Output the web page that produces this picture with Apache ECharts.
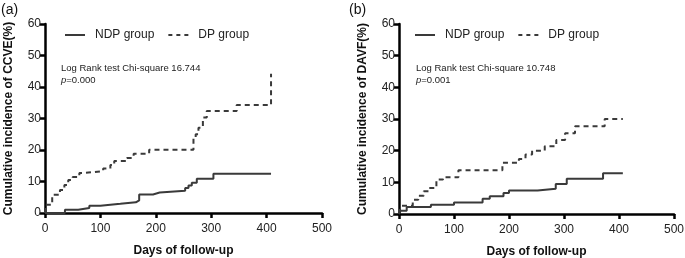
<!DOCTYPE html>
<html>
<head>
<meta charset="utf-8">
<script src="https://cdn.jsdelivr.net/npm/echarts@6/dist/echarts.min.js"></script>
<style>
  html, body { margin: 0; padding: 0; background: #fff; }
  #main { width: 685px; height: 258px; }
</style>
</head>
<body>
<div id="main"></div>
<script>
// panel (a): CCVE
var ccveNdpDays = [0, 36, 60, 80, 100, 136, 164, 170, 195, 207, 253, 259, 265, 274, 304, 408];
var ccveNdpPct  = [0, 1.0, 1.6, 2.3, 2.9, 3.4, 4.0, 5.9, 6.5, 7.1, 7.9, 8.7, 9.6, 10.9, 12.5, 12.5];
var ccveDpDays = [0, 0, 13, 27, 35, 42, 50, 62, 70, 105, 118, 125, 148, 160, 188, 268, 272, 277, 285, 292, 346, 408, 408];
var ccveDpPct  = [0, 2.6, 5.8, 7.3, 8.9, 10.5, 11.4, 12.7, 13.3, 14.1, 15.2, 16.5, 17.5, 18.8, 20.1, 23.9, 25.0, 27.1, 30.3, 32.4, 34.3, 34.3, 44.2];

// panel (b): DAVF
var davfNdpDays = [0, 3, 14, 58, 100, 152, 165, 190, 200, 252, 285, 305, 371, 407];
var davfNdpPct  = [0, 1.0, 2.2, 2.9, 3.6, 4.8, 5.6, 6.6, 7.4, 8.0, 9.5, 11.1, 12.9, 12.9];
var davfDpDays = [0, 2, 5, 25, 35, 45, 55, 68, 80, 108, 188, 218, 230, 242, 265, 286, 302, 320, 374, 407];
var davfDpPct  = [0, 1.5, 2.6, 4.5, 5.8, 7.2, 8.2, 10.9, 11.6, 13.8, 16.2, 17.4, 18.8, 20.0, 21.4, 23.4, 25.5, 27.7, 30.0, 30.0];

var xTicks = [0, 100, 200, 300, 400, 500];
var yTicks = [0, 10, 20, 30, 40, 50, 60];
var groupNames = ['NDP group', 'DP group'];
var yTitles = ['Cumulative incidence of CCVE(%)', 'Cumulative incidence of DAVF(%)'];
var chiSq = ['16.744', '10.748'];
var pVals = ['0.000', '0.001'];

function pairs(xs, ys) {
    var out = [];
    for (var i = 0; i < xs.length; i++) out.push([xs[i], ys[i]]);
    return out;
}

var lineColor = '#3a3a3a';
var font = 'Arial, "Liberation Sans", Helvetica, sans-serif';

function xAxisFor(idx) {
    return {
        type: 'value', gridIndex: idx,
        min: xTicks[0], max: xTicks[xTicks.length - 1], interval: 100,
        name: 'Days of follow-up', nameLocation: 'middle', nameGap: 32,
        nameTextStyle: { fontFamily: font, fontWeight: 'bold', fontSize: 12, color: '#111' },
        axisLine: { lineStyle: { color: '#000', width: 2.5 } },
        axisTick: { length: 5, lineStyle: { color: '#000', width: 2.5 } },
        axisLabel: { fontFamily: font, fontSize: 12, color: '#222', margin: 10 },
        splitLine: { show: false }
    };
}
function yAxisFor(idx) {
    return {
        type: 'value', gridIndex: idx,
        min: yTicks[0], max: yTicks[yTicks.length - 1], interval: 10,
        name: yTitles[idx], nameLocation: 'middle', nameGap: 30,
        nameTextStyle: { fontFamily: font, fontWeight: 'bold', fontSize: 12, color: '#111' },
        axisLine: { show: true, lineStyle: { color: '#000', width: 2.5 } },
        axisTick: { show: true, length: 5, lineStyle: { color: '#000', width: 2.5 } },
        axisLabel: { fontFamily: font, fontSize: 12, color: '#222', margin: 4 },
        splitLine: { show: false }
    };
}
function kmSeries(name, idx, data, dashed) {
    return {
        name: name, type: 'line', step: 'end',
        xAxisIndex: idx, yAxisIndex: idx,
        data: data, showSymbol: false, symbol: 'none', animation: false,
        lineStyle: { color: lineColor, width: 2, type: dashed ? [5, 4] : 'solid' },
        itemStyle: { color: lineColor }
    };
}
function legendFor(left) {
    return {
        left: left, top: 24, itemWidth: 20, itemHeight: 2, itemGap: 14,
        data: [
            { name: groupNames[0], icon: 'path://M0,0h20v2h-20z' },
            { name: groupNames[1], icon: 'path://M0,0h4v2h-4z M8,0h4v2h-4z M16,0h4v2h-4z' }
        ],
        itemStyle: { color: lineColor },
        textStyle: { fontFamily: font, fontSize: 12, color: '#222', padding: [0, 0, 0, 5] }
    };
}
function note(left, idx) {
    return {
        type: 'text', left: left, top: 62,
        style: {
            text: 'Log Rank test Chi-square ' + chiSq[idx] + '\n{i|p}=' + pVals[idx],
            rich: { i: { fontStyle: 'italic', fontFamily: font, fontSize: 9.5, fill: '#222' } },
            fontFamily: font, fontSize: 9.5, fill: '#222', lineHeight: 12
        }
    };
}

var myChart = echarts.init(document.getElementById('main'), null, { renderer: 'canvas' });
var option = {
    backgroundColor: '#fff',
    animation: false,
    grid: [
        { left: 45, top: 24, width: 277, height: 189, containLabel: false, outerBoundsMode: 'none' },
        { left: 399, top: 24, width: 275, height: 190, containLabel: false, outerBoundsMode: 'none' }
    ],
    xAxis: [xAxisFor(0), xAxisFor(1)],
    yAxis: [yAxisFor(0), yAxisFor(1)],
    legend: [legendFor(60), legendFor(410)],
    graphic: [
        { type: 'text', left: 1, top: 3, style: { text: '(a)', fontFamily: font, fontSize: 14, fill: '#111' } },
        { type: 'text', left: 349, top: 3, style: { text: '(b)', fontFamily: font, fontSize: 14, fill: '#111' } },
        note(61, 0),
        note(416, 1)
    ],
    series: [
        kmSeries(groupNames[0], 0, pairs(ccveNdpDays, ccveNdpPct), false),
        kmSeries(groupNames[1], 0, pairs(ccveDpDays, ccveDpPct), true),
        kmSeries(groupNames[0], 1, pairs(davfNdpDays, davfNdpPct), false),
        kmSeries(groupNames[1], 1, pairs(davfDpDays, davfDpPct), true)
    ]
};
myChart.setOption(option, true);
</script>
</body>
</html>
